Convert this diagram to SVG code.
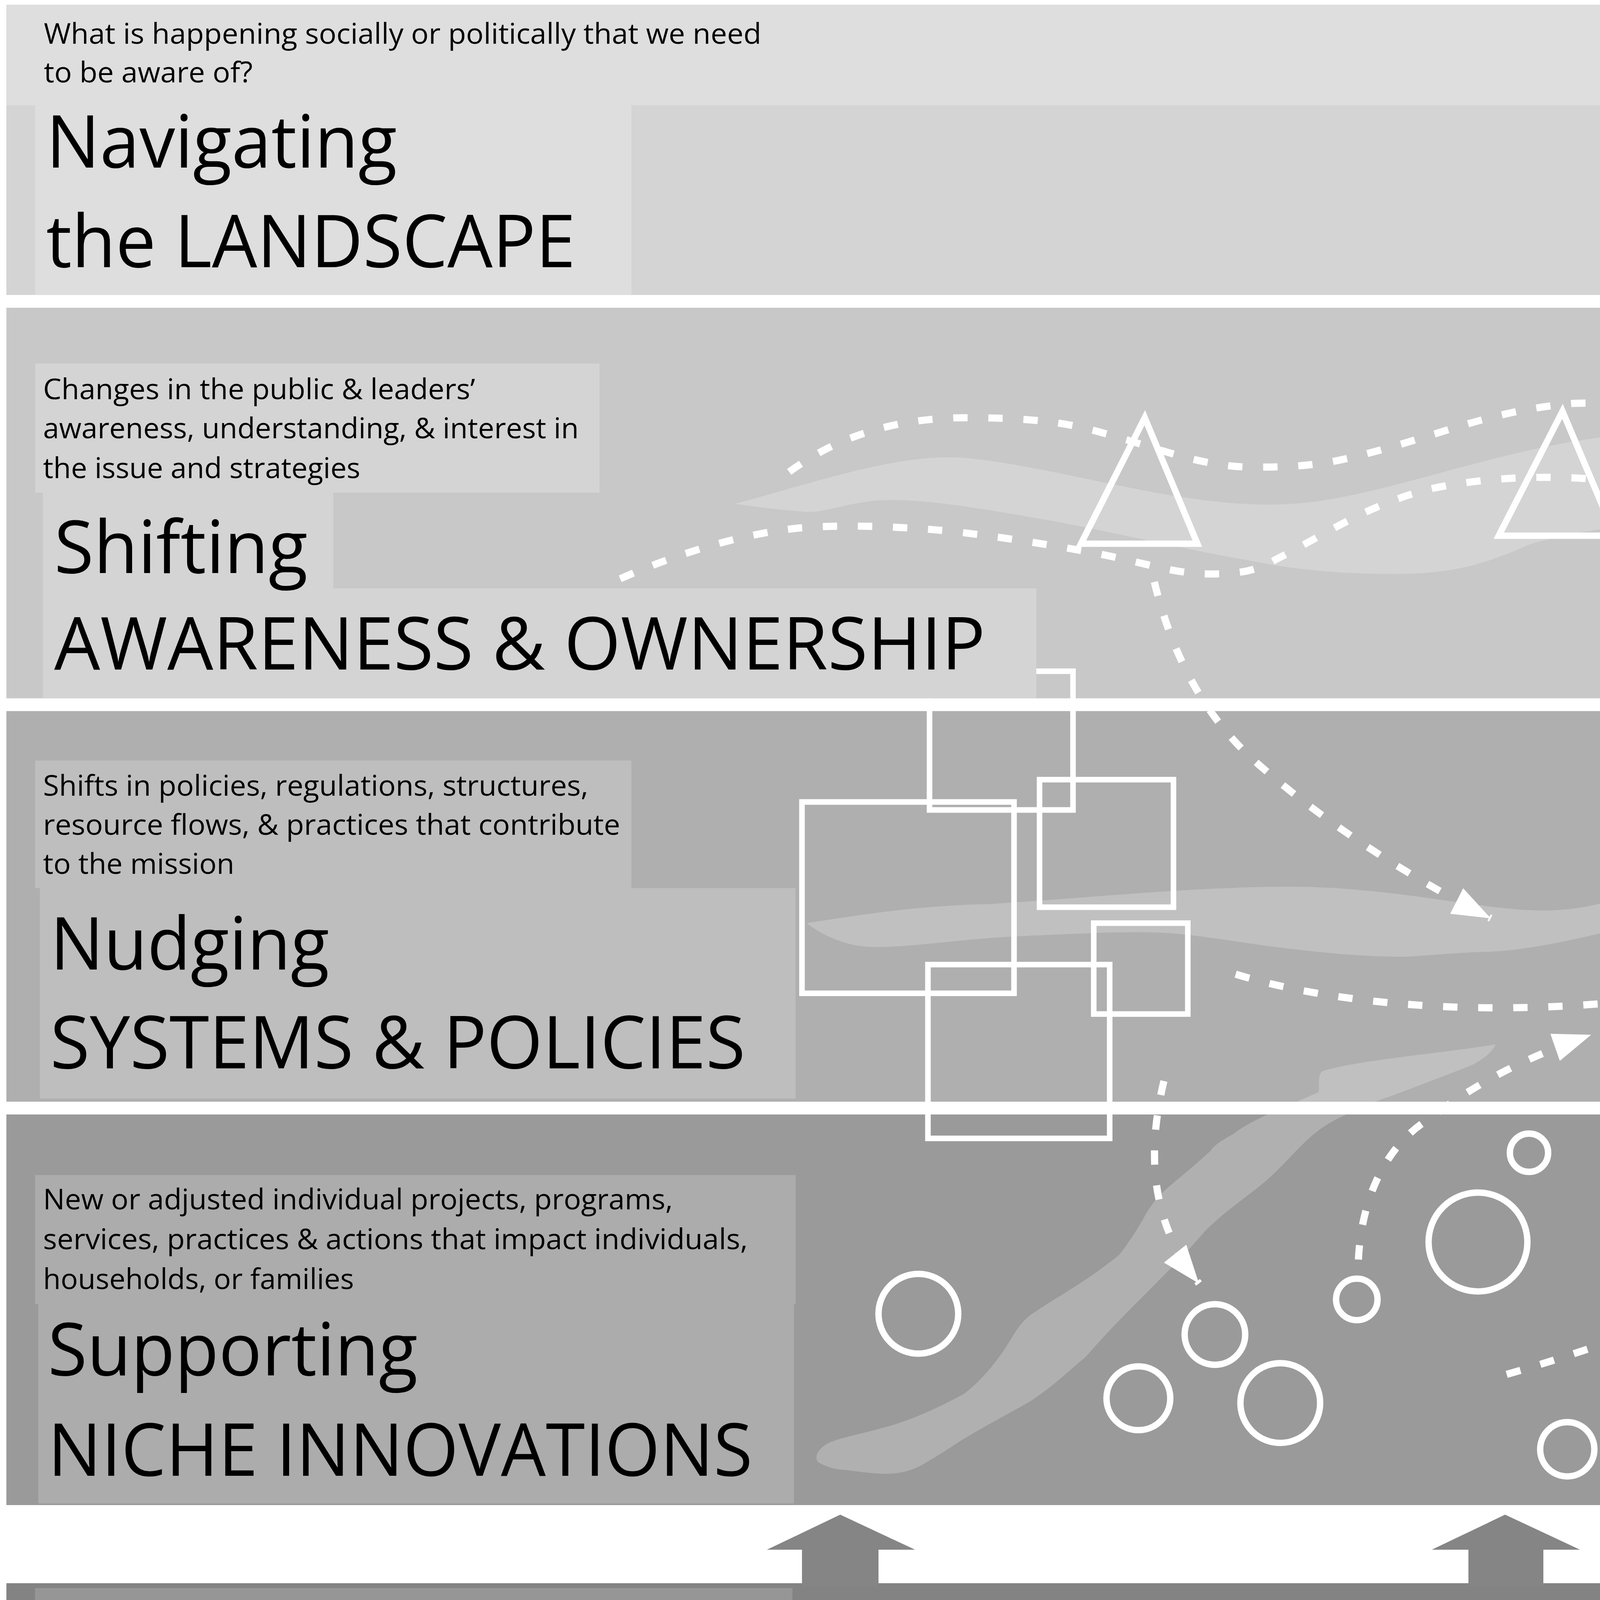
<svg xmlns="http://www.w3.org/2000/svg" width="6400" height="4749" viewBox="0 0 6400 4749">
<defs>
<style>
.lbl{font-family:"Open Sans","Noto Sans","Liberation Sans",sans-serif;fill:#000;}
.sm{font-size:18px;}
.big{font-size:46px;}
.ol{fill:none;stroke:#fff;stroke-width:4;}
.rc{fill:none;stroke:#fff;stroke-width:3.5;}
.dash{fill:none;stroke:#fff;stroke-width:4.5;stroke-dasharray:9 13;}
.rib{fill:#fff;fill-opacity:0.22;}
.up{fill:#858585;}
</style>
<marker id="ah" markerUnits="userSpaceOnUse" markerWidth="26" markerHeight="20" refX="24" refY="9" orient="auto" viewBox="0 0 26 20">
<path d="M0,0 L24,9 L0,18 Z" fill="#fff"/>
</marker>
</defs>
<rect x="0" y="0" width="6400" height="4749" fill="#fff"/>
<g transform="scale(4.0816)">
<g id="band-landscape">
<rect x="4" y="3" width="1564" height="182" fill="#d4d4d4"/>
<rect x="4" y="3" width="1564" height="63" fill="#dedede"/>
<rect x="22" y="66" width="374" height="119" fill="#dedede"/>
</g>
<g id="band-awareness">
<rect x="4" y="193" width="1564" height="245" fill="#c8c8c8"/>
</g>
<g id="band-systems">
<rect x="4" y="446" width="1564" height="245" fill="#afafaf"/>
</g>
<g id="band-niche">
<rect x="4" y="699" width="1564" height="245" fill="#9a9a9a"/>
</g>
<g id="band-capacity">
<rect x="4" y="993" width="1564" height="134" fill="#838383"/>
<rect x="22" y="996" width="475" height="131" fill="#969696"/>
<rect x="4" y="1127" width="1564" height="37" fill="#999999"/>
</g>
<g id="ribbons">
<path class="rib" d="M461,316 C520,300 570,282 613,288 C680,296 760,325 829,314 C900,303 990,262 1073,274 C1140,284 1180,312 1231,318 C1300,326 1360,332 1411,329 C1450,327 1480,322 1493,318 C1485,335 1465,350 1432,356 C1390,366 1350,376 1310,370 C1250,362 1200,342 1159,336 C1110,328 1080,322 1052,326 C1010,330 975,336 958,342 C935,352 915,360 875,360 C840,360 810,357 786,352 C740,344 700,334 656,326 C610,318 575,312 549,314 C530,316 515,322 506,321 C490,320 475,318 461,316 Z"/>
<path class="rib" d="M506,579 C550,572 580,568 621,567 C700,562 790,552 850,558 C900,562 940,572 973,571 C1000,570 1015,563 1037,557 C1080,546 1120,540 1152,541 C1190,542 1210,547 1231,551 C1290,560 1340,568 1375,569 C1400,570 1425,568 1437,572 C1430,582 1405,590 1371,589 C1340,588 1310,586 1282,581 C1220,572 1170,558 1123,561 C1085,564 1060,572 1030,579 C990,589 955,597 929,597 C905,598 890,600 879,600 C850,600 825,597 800,594 C770,590 750,586 728,585 C700,584 670,586 642,587 C600,589 575,594 549,594 C530,594 515,586 506,579 Z"/>
<path class="rib" d="M938,655 C910,660 850,665 829,672 C826,676 828,682 827,685 C805,695 785,702 774,711 C765,716 762,718 759,722 C745,735 735,742 727,750 C720,758 718,763 715,768 C710,776 706,782 702,787 C680,805 660,815 646,825 C640,830 637,835 634,840 C625,855 615,866 605,874 C585,885 568,892 552,896 C538,900 525,902 518,906 C512,910 511,914 513,917 C518,920 524,922 531,922 C545,924 555,925 562,924 C570,923 574,921 578,919 C590,912 596,908 602,904 C620,893 634,886 646,879 C660,870 670,860 681,851 C695,835 705,825 715,815 C730,800 743,787 756,772 C768,760 780,752 790,744 C805,732 815,718 827,709 C835,703 842,700 849,697 C858,693 864,690 871,688 C890,681 905,675 921,669 C930,665 936,660 938,655 Z"/>
</g>
<g id="triangles">
<polygon class="ol" points="718,262 678,341 751,341"/>
<polygon class="ol" points="980,258 940,336 1013,336"/>
<polygon class="ol" points="1259,302 1222,378 1295,378"/>
</g>
<g id="rects-left">
<rect class="rc" x="583" y="421" width="90" height="87"/>
<rect class="rc" x="652" y="489" width="84" height="80"/>
<rect class="rc" x="503" y="503" width="133" height="120"/>
<rect class="rc" x="686" y="579" width="59" height="57"/>
<rect class="rc" x="582" y="605" width="114" height="109"/>
</g>
<g id="rects-right">
<rect class="ol" x="1191" y="414" width="94" height="90" rx="10"/>
<circle class="ol" cx="1287" cy="506" r="22"/>
<rect class="ol" x="1334" y="464" width="68" height="64" rx="8"/>
<rect class="ol" x="1147" y="497" width="83" height="81" rx="10"/>
<rect class="ol" x="1208" y="572" width="96" height="93" rx="10"/>
<circle class="ol" cx="1281" cy="660" r="22"/>
</g>
<g id="circles">
<circle class="ol" cx="576" cy="824" r="25"/>
<circle class="ol" cx="959" cy="723" r="12"/>
<circle class="ol" cx="927" cy="779" r="31"/>
<circle class="ol" cx="851" cy="815" r="13"/>
<circle class="ol" cx="762" cy="837" r="19"/>
<circle class="ol" cx="714" cy="877" r="20"/>
<circle class="ol" cx="803" cy="880" r="25"/>
<circle class="ol" cx="983" cy="909" r="17"/>
<circle class="ol" cx="1095" cy="872" r="14"/>
<circle class="ol" cx="1193" cy="861" r="24"/>
<circle class="ol" cx="1310" cy="800" r="14"/>
<circle class="ol" cx="1466" cy="838" r="16"/>
<circle class="ol" cx="1511" cy="878" r="21"/>
</g>
<g id="connectors">
<path class="dash" marker-end="url(#ah)" d="M495,296 C530,270 570,262 606,262 C640,262 660,264 678,268 C720,278 750,293 786,293 C810,293 825,292 843,288 C900,275 930,258 987,253 C1010,252 1025,256 1037,263 C1070,280 1095,295 1123,302 C1150,310 1175,312 1195,311 C1215,305 1230,293 1246,286 C1280,270 1300,265 1318,265 C1335,265 1348,268 1361,272 C1400,285 1420,294 1447,295 C1480,296 1500,290 1511,286 L1551,272"/>
<path class="dash" marker-end="url(#ah)" d="M389,363 C430,345 470,334 503,331 C530,329 560,330 595,333 C630,337 660,342 682,346 C720,353 735,360 760,360 C780,360 790,357 800,351 C830,336 860,315 900,306 C940,298 980,298 1016,302 C1060,306 1095,310 1123,314 C1170,322 1200,340 1231,349 C1260,356 1280,360 1300,361 C1340,363 1370,363 1395,361 C1440,357 1480,348 1504,342 L1532,331"/>
<path class="dash" marker-end="url(#ah)" d="M724,365 C735,410 755,450 790,480 C830,515 880,548 935,576"/>
<path class="dash" marker-end="url(#ah)" d="M775,611 C830,628 900,633 951,632 C1030,631 1100,618 1156,603"/>
<path class="dash" marker-end="url(#ah)" d="M852,790 C854,750 870,718 896,702 C925,680 955,664 998,649"/>
<path class="dash" marker-end="url(#ah)" d="M730,678 C720,720 720,765 752,805"/>
<path class="dash" marker-end="url(#ah)" d="M945,862 C1030,838 1110,800 1170,804 C1230,808 1260,845 1310,842 C1345,840 1375,830 1405,820"/>
<polygon class="up" points="503,995 503,972 481,972 527,950 574,972 551,972 551,995"/>
<polygon class="up" points="921,995 921,972 898,972 944,950 991,972 968,972 968,995"/>
<polygon class="up" points="1339,995 1339,972 1316,972 1362,950 1409,972 1386,972 1386,995"/>
</g>
<g id="label-landscape">
<text class="lbl sm" x="27.5" y="27.4" textLength="450" lengthAdjust="spacingAndGlyphs">What is happening socially or politically that we need</text>
<text class="lbl sm" x="27.5" y="51.6" textLength="131" lengthAdjust="spacingAndGlyphs">to be aware of?</text>
<text class="lbl big" x="29" y="105" textLength="220" lengthAdjust="spacingAndGlyphs">Navigating</text>
<text class="lbl big" x="29" y="167.6" textLength="332" lengthAdjust="spacingAndGlyphs">the LANDSCAPE</text>
</g>
<g id="label-awareness">
<rect x="22" y="228" width="354" height="81" fill="#d4d4d4"/>
<rect x="27" y="309" width="182" height="60" fill="#d4d4d4"/>
<rect x="27" y="369" width="623" height="69" fill="#d4d4d4"/>
<text class="lbl sm" x="27" y="250.5" textLength="271" lengthAdjust="spacingAndGlyphs">Changes in the public &amp; leaders’</text>
<text class="lbl sm" x="27" y="275" textLength="336" lengthAdjust="spacingAndGlyphs">awareness, understanding, &amp; interest in</text>
<text class="lbl sm" x="27" y="300" textLength="199" lengthAdjust="spacingAndGlyphs">the issue and strategies</text>
<text class="lbl big" x="34" y="359.4" textLength="159" lengthAdjust="spacingAndGlyphs">Shifting</text>
<text class="lbl big" x="34" y="420" textLength="584" lengthAdjust="spacingAndGlyphs">AWARENESS &amp; OWNERSHIP</text>
</g>
<g id="label-systems">
<rect x="22" y="477" width="374" height="80" fill="#bebebe"/>
<rect x="25" y="557" width="474" height="132" fill="#bebebe"/>
<text class="lbl sm" x="27" y="499" textLength="342" lengthAdjust="spacingAndGlyphs">Shifts in policies, regulations, structures,</text>
<text class="lbl sm" x="27" y="523.5" textLength="362" lengthAdjust="spacingAndGlyphs">resource flows, &amp; practices that contribute</text>
<text class="lbl sm" x="27" y="548" textLength="120" lengthAdjust="spacingAndGlyphs">to the mission</text>
<text class="lbl big" x="31.5" y="608" textLength="175" lengthAdjust="spacingAndGlyphs">Nudging</text>
<text class="lbl big" x="31.5" y="670" textLength="436" lengthAdjust="spacingAndGlyphs">SYSTEMS &amp; POLICIES</text>
</g>
<g id="label-niche">
<rect x="22" y="737" width="477" height="81" fill="#acacac"/>
<rect x="24" y="818" width="474" height="125" fill="#acacac"/>
<text class="lbl sm" x="27" y="758.5" textLength="395" lengthAdjust="spacingAndGlyphs">New or adjusted individual projects, programs,</text>
<text class="lbl sm" x="27" y="783.5" textLength="442" lengthAdjust="spacingAndGlyphs">services, practices &amp; actions that impact individuals,</text>
<text class="lbl sm" x="27" y="808.6" textLength="195" lengthAdjust="spacingAndGlyphs">households, or families</text>
<text class="lbl big" x="30" y="862.6" textLength="232" lengthAdjust="spacingAndGlyphs">Supporting</text>
<text class="lbl big" x="30" y="925.5" textLength="442" lengthAdjust="spacingAndGlyphs">NICHE INNOVATIONS</text>
</g>
<g id="label-capacity">
<text class="lbl big" x="26" y="1047.8" textLength="299" lengthAdjust="spacingAndGlyphs">Strengthening</text>
<text class="lbl big" x="27" y="1110" textLength="202" lengthAdjust="spacingAndGlyphs">CAPACITY</text>
<text class="lbl sm" x="27" y="1145" textLength="427" lengthAdjust="spacingAndGlyphs">What is needed to make the work above possible?</text>
</g>
</g>
</svg>
